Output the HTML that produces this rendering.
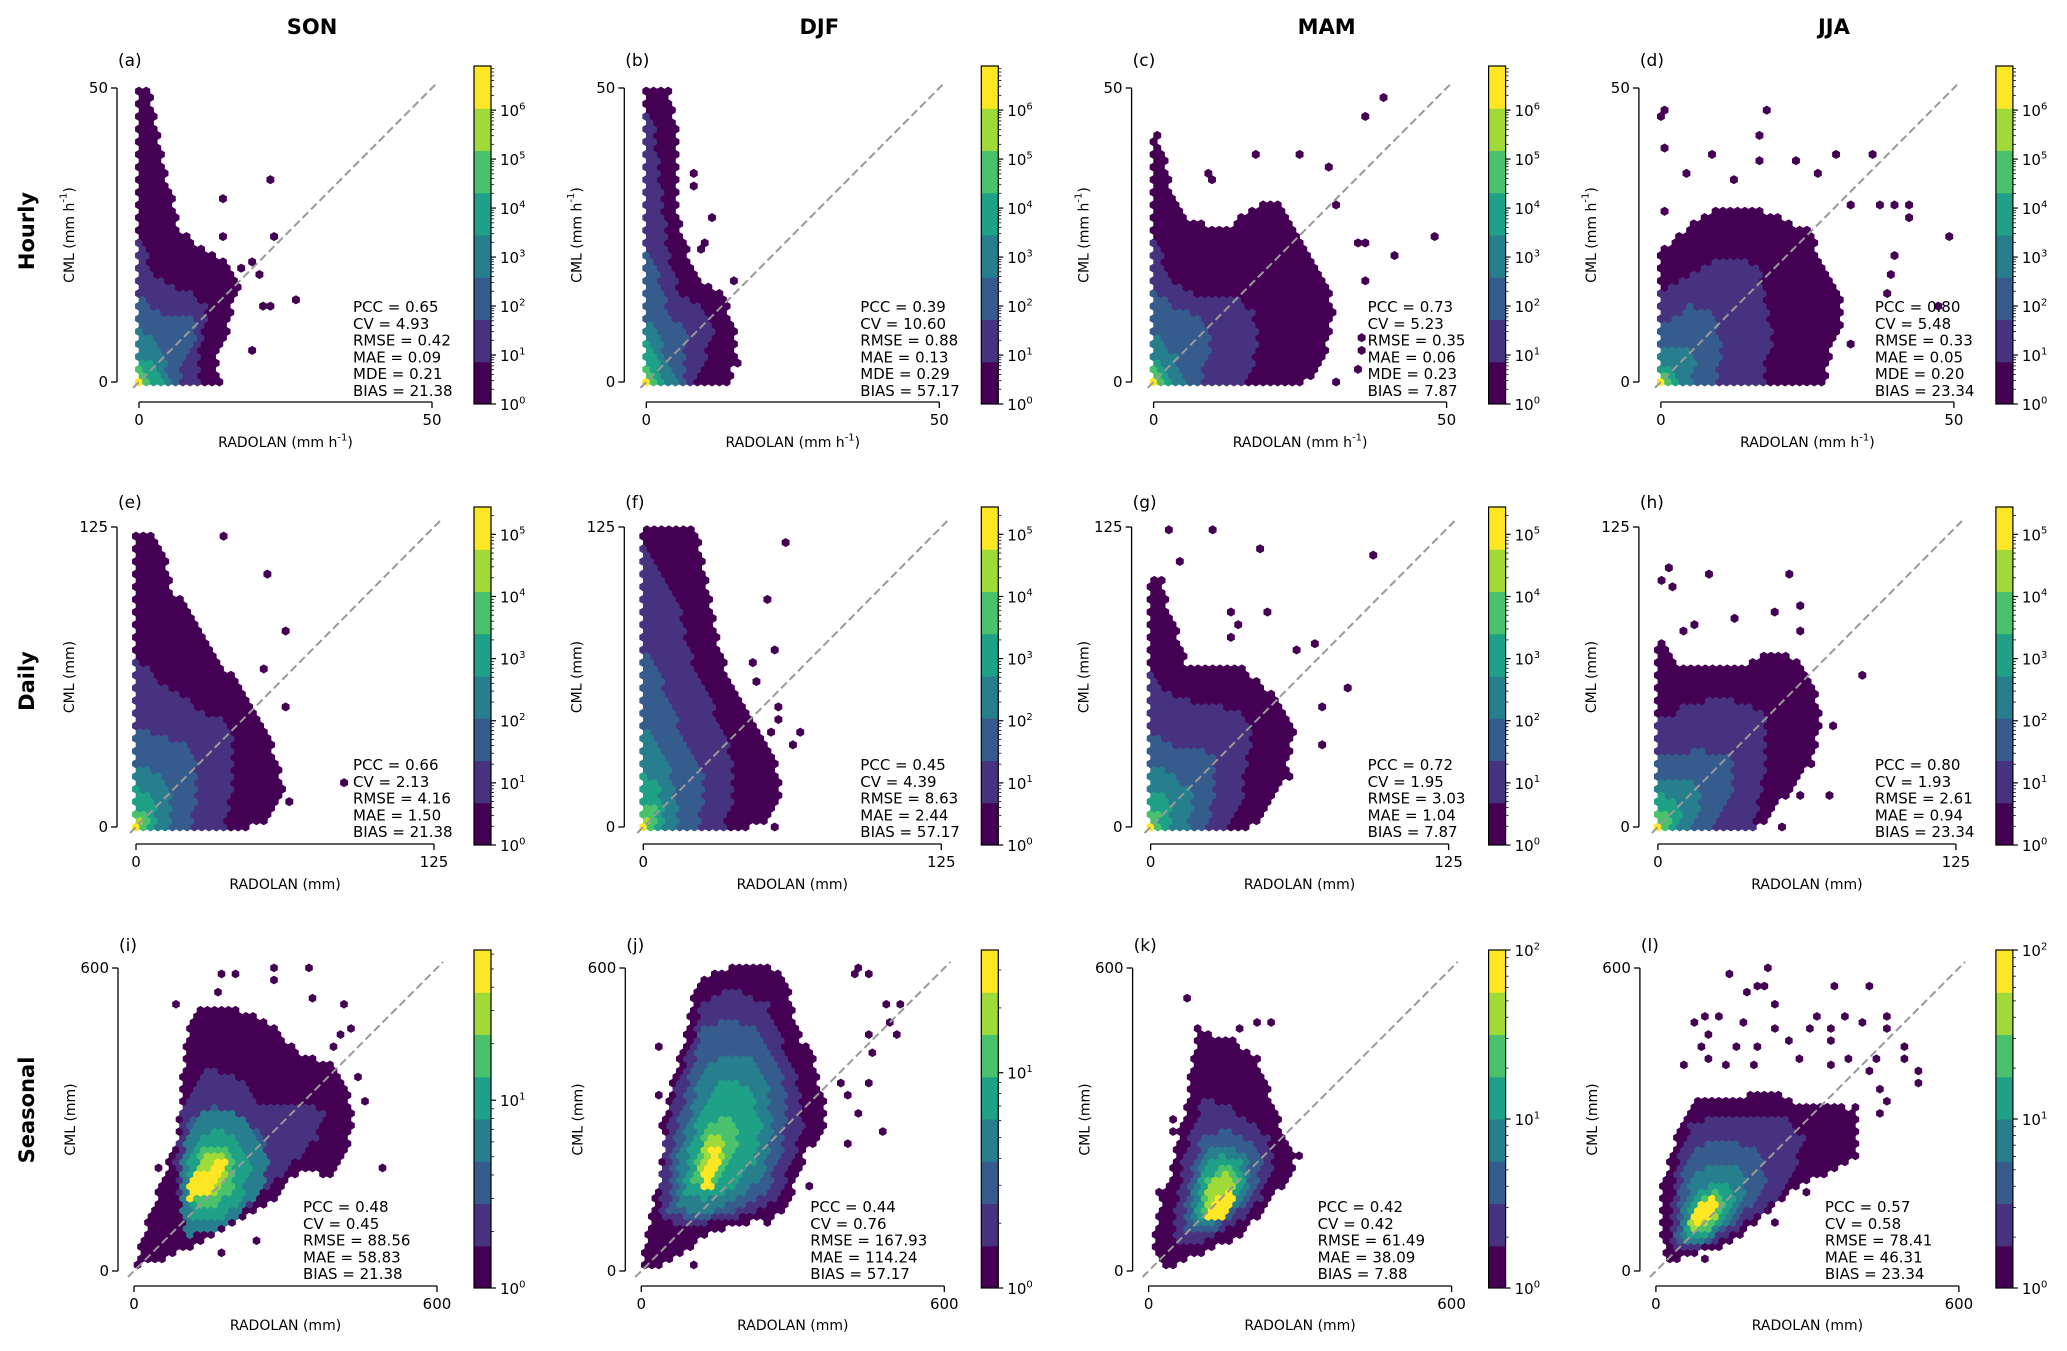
<!DOCTYPE html>
<html><head><meta charset="utf-8"><style>
html,body{margin:0;padding:0;background:#fff;}
svg{display:block;font-family:"DejaVu Sans","Liberation Sans",sans-serif;}
</style></head><body>
<svg id="fig" width="2067" height="1351" viewBox="0 0 2067 1351" xmlns="http://www.w3.org/2000/svg"></svg>
<script>
const seasons = ["SON","DJF","MAM","JJA"];
const rowNames = ["Hourly","Daily","Seasonal"];
const axisMax = [50,125,600];
const letters = ["(a)","(b)","(c)","(d)","(e)","(f)","(g)","(h)","(i)","(j)","(k)","(l)"];
const yLabels = ["CML (mm h","CML (mm)","CML (mm)"];
const xLabels = ["RADOLAN (mm h","RADOLAN (mm)","RADOLAN (mm)"];
const statNames1 = ["PCC","CV","RMSE","MAE","MDE","BIAS"];
const statNames2 = ["PCC","CV","RMSE","MAE","BIAS"];
const statVals = [
 ["0.65","4.93","0.42","0.09","0.21","21.38"],["0.39","10.60","0.88","0.13","0.29","57.17"],
 ["0.73","5.23","0.35","0.06","0.23","7.87"],["0.80","5.48","0.33","0.05","0.20","23.34"],
 ["0.66","2.13","4.16","1.50","21.38"],["0.45","4.39","8.63","2.44","57.17"],
 ["0.72","1.95","3.03","1.04","7.87"],["0.80","1.93","2.61","0.94","23.34"],
 ["0.48","0.45","88.56","58.83","21.38"],["0.44","0.76","167.93","114.24","57.17"],
 ["0.42","0.42","61.49","38.09","7.88"],["0.57","0.58","78.41","46.31","23.34"]];
const cbLogMax = [6.9,6.9,6.9,6.9,5.44,5.44,5.44,5.44,1.8,1.57,2.0,2.0];
const levelColors = ["#440154","#46327e","#365c8d","#277f8e","#1fa187","#4ac16d","#a0da39","#fde725"];

const shapeA=[[-2,-2,-2,50,2,50,3,44,4,38,6,30,7,26,10,23,14,21,17,17,16,12,15,8,13,4,14,0,14,-2],[-2,-2,-2,25,1,24,2,19,5,17,9,15,12,13,11,8,10,4,10,0,10,-2],[-2,-2,-2,16,1,14,3,12,9,11,10,8,8,5,7,2,7,0,7,-2],[-2,-2,-2,10,3,7,4,4,5,2,6,0,6,-2],[-2,-2,-2,5,3,3,4,0,4,-2],[-2,-2,-2,2.5,1.5,2,2,0,2,-2],[-2,-2,-2,1,1,0.5,1,-2],[-1,-1,-1,0.4,0.4,0.4,0.4,-1]];
const outA=[22.4,34.8,14.3,31.5,14.3,25,23,25,26.8,14.2,21,13.3,22,13.3,19.3,5.4,19.3,20.7,18,19,20,18.8];
const shapeB=[[-2,-2,-2,50,4,50,5,45,5,30,7,22,10,17,13,15,15,10,15,3,14,0,14,-2],[-2,-2,-2,46,1,46,2,38,3,30,4,20,6,15,9,13,12,9,10,4,8,0,8,-2],[-2,-2,-2,23,1,22,2,18,4,12,7,8,6,3,7,0,7,-2],[-2,-2,-2,13,2,8,4,3,5,0,5,-2],[-2,-2,-2,8,1,6,2,3,3,0,3,-2],[-2,-2,-2,3,1.5,2,2,0,2,-2],[-2,-2,-2,1.2,1,0.5,1,-2],[-1,-1,-1,0.4,0.4,0.4,0.4,-1]];
const outB=[8,36,8,33,11,28,10,24,9,23,15,17,15.5,9,15,3.5];
const shapeC=[[-2,-2,-2,42,1,42,2,37,3,33,5,28,8,27,12,26,17,30,22,31,24,26,26,22,29,17,31,13,30,7,28,2,26,0,26,-2],[-2,-2,-2,25,1,24,2,18,7,15,14,15,17,12,18,8,17,3,16,0,16,-2],[-2,-2,-2,17,1,15,3,13,8,11,10,8,9,4,8,0,8,-2],[-2,-2,-2,9,2,7,4,4,5,0,5,-2],[-2,-2,-2,5,2,3,3,0,3,-2],[-2,-2,-2,3,1.5,2,2,0,2,-2],[-2,-2,-2,1.2,1,0.5,1,-2],[-1,-1,-1,0.4,0.4,0.4,0.4,-1]];
const outC=[39.3,48,36,44.8,17.4,38.2,24.9,38.2,30.3,37,9.8,36,9.8,34,31,29.6,34.3,23.9,36.5,23.9,41.6,21.8,48.4,25,35.6,17.2,31.5,0,35,7.5,35,5.5,35,2.3];
const shapeD=[[-2,-2,-2,22,2,24,5,27,8,29,12,30,16,30,20,28,25,26,27,22,31,15,31,10,29,5,28,0,28,-2],[-2,-2,-2,15,3,17,6,19,10,21,14,21,17,19,18,14,19,8,18,3,18,0,18,-2],[-2,-2,-2,9,2,11,5,13,9,12,10,8,10,3,9,0,9,-2],[-2,-2,-2,5,2,6,5,6,6,3,5,0,5,-2],[-2,-2,-2,3,2,2,3,0,3,-2],[-2,-2,-2,1.5,1.5,1,1.5,-2],[-1,-1,-1,0.6,0.6,0.6,0.6,-1],[-1,-1,-1,0.3,0.3,0.3,0.3,-1]];
const outD=[0.85,46.7,0.5,45.5,17.9,46.6,17,42.3,0.7,40.2,8.8,39,17,37.9,23.3,37.9,30,39,36.4,39,4.5,35.9,12.8,34.7,27,35.9,0.85,29.4,32.7,30.3,37.5,30.3,40,30.3,42.6,30.3,42.6,28.3,49.4,24.9,40,21.7,39.4,18.3,39,15.4,47.7,13,32.4,6.6,29,4.3,29,8.6];
const shapeE=[[-5,-5,-5,123,6,123,12,115,15,100,25,85,32,72,42,62,50,50,56,38,60,25,62,12,55,3,48,0,48,-5],[-5,-5,-5,72,4,68,8,60,18,56,25,50,35,45,40,40,40,15,38,3,38,0,38,-5],[-5,-5,-5,42,4,40,10,38,20,35,25,28,25,15,24,5,22,0,22,-5],[-5,-5,-5,26,5,25,12,20,15,14,15,5,14,0,14,-5],[-5,-5,-5,17,4,15,8,12,8,5,8,0,8,-5],[-5,-5,-5,9,4,7,5,3,5,0,5,-5],[-5,-5,-5,4,2,3,3,0,3,-5],[-3,-3,-3,1,1,1,1,-3]];
const outE=[36,122,54.9,106,63,81,53,65,62,49,65.8,11,86,19];
const shapeF=[[-5,-5,-5,126,22,126,26,105,29,90,33,72,37,58,45,45,52,35,57,22,58,12,52,3,45,0,45,-5],[-5,-5,-5,118,3,116,8,105,14,95,18,80,22,65,27,55,33,42,38,28,38,12,35,3,35,0,35,-5],[-5,-5,-5,75,4,70,8,60,12,50,16,40,22,30,25,20,25,8,23,0,23,-5],[-5,-5,-5,42,4,40,8,32,12,22,14,12,14,0,14,-5],[-5,-5,-5,25,5,20,8,12,8,5,8,0,8,-5],[-5,-5,-5,11,5,8,6,3,6,0,6,-5],[-5,-5,-5,4,2,3,3,0,3,-5],[-3,-3,-3,1,1,1,1,-3]];
const outF=[59,119.5,51,95,56,73,45,68,46.7,59.7,55.6,49,57.8,46,55,40.8,64.8,40.8,61.7,35.5,55.6,0.3,45,3];
const shapeG=[[-5,-5,-5,105,5,105,8,90,12,78,15,68,25,66,40,66,45,60,52,55,58,48,60,40,58,30,56,20,50,10,45,3,42,0,42,-5],[-5,-5,-5,66,3,62,8,55,18,52,30,50,40,47,42,38,40,25,38,10,33,0,33,-5],[-5,-5,-5,40,4,38,10,34,20,33,27,30,27,20,26,8,24,0,24,-5],[-5,-5,-5,25,5,24,12,20,17,15,17,5,16,0,16,-5],[-5,-5,-5,16,4,14,8,10,9,4,8,0,8,-5],[-5,-5,-5,8,3,6,4,2,4,0,4,-5],[-5,-5,-5,3,2,2,2,0,2,-5],[-3,-3,-3,1,1,1,1,-3]];
const outG=[7,123,24.8,123,45,116,94,113,13.7,111,32.5,89.8,48,90,35.7,84,33,79,68.7,76,61,73,82.6,57,71.6,49,70.6,35,59,21.6];
const shapeH=[[-5,-5,-5,78,3,78,6,70,12,66,25,66,35,66,45,72,55,72,62,65,66,55,68,45,65,30,58,18,50,8,45,2,40,0,40,-5],[-5,-5,-5,48,5,46,10,50,20,53,30,53,40,50,45,46,46,35,45,25,42,10,40,0,40,-5],[-5,-5,-5,32,5,30,15,32,25,31,32,28,32,15,27,5,22,0,22,-5],[-5,-5,-5,22,4,20,12,20,18,15,18,5,15,0,15,-5],[-5,-5,-5,14,4,13,9,10,10,5,8,0,8,-5],[-5,-5,-5,8,3,7,5,3,4,0,4,-5],[-5,-5,-5,4,2,2,2,0,2,-5],[-3,-3,-3,1,1,1,1,-3]];
const outH=[3.4,109,4.8,100.6,0,104,20,106,55,106,48.7,90,60,93,61,82,31.6,87,15.4,84,11,82,86.5,62.7,75,43,65.5,27,58.8,13,71,13.4,50.6,0.3];
const shapeI=[[6,10,45,18,131,57,197,94,263,127,303,173,330,205,395,186,421,226,434,305,421,371,395,411,340,424,296,463,263,496,197,523,131,523,105,477,98,397,84,265,52,173,26,94,6,28],[90,140,150,110,230,130,300,200,360,260,380,320,330,330,250,330,200,390,140,400,100,330,80,220],[100,130,150,120,210,150,240,200,260,260,220,300,160,330,110,300,95,220],[105,70,160,80,210,110,250,160,270,220,240,280,190,320,140,320,105,280,95,200,95,120],[115,100,170,100,210,140,235,200,215,250,175,280,130,270,110,220,105,160],[120,130,160,130,195,160,200,210,180,250,140,250,118,200],[125,150,160,150,185,180,185,220,160,240,135,225,120,190],[108,140,140,150,170,180,190,215,175,225,150,205,120,190,106,165]];
const outI=[170,589,202,589,283,602,345,600,283,575,165,549,90,523,353,536,421,523,428,482,390,444,405,470,442,379,464,339,496,209,45,209,30,79,61,24,172,39,246,65,255,132,6,14];
const shapeJ=[[0,0,51,14,137,77,211,94,269,107,297,147,316,199,329,239,355,265,368,312,355,364,342,424,316,457,303,510,289,563,262,602,170,602,118,576,99,530,90,471,71,411,51,345,45,279,38,180,18,114,5,48],[40,100,100,90,200,110,270,140,300,220,320,280,310,380,280,450,250,530,180,560,120,530,100,440,70,380,50,280,40,180],[55,120,110,100,190,120,250,160,280,240,290,330,270,420,230,480,170,500,120,480,100,400,80,320,60,230],[70,130,120,110,190,140,240,190,260,270,250,360,220,420,160,430,120,400,100,320,75,230],[85,150,130,140,190,170,225,220,240,290,220,350,190,380,150,370,120,320,95,240],[100,170,140,170,175,210,195,260,185,300,160,310,130,280,108,220],[115,180,140,185,160,220,165,260,150,280,130,260,115,220],[122,160,138,165,150,200,158,240,150,258,138,240,125,200]];
const outJ=[420,589,434,602,457,589,480,523,510,523,497,496,510,470,451,470,454,431,391,368,451,368,411,351,427,315,473,275,411,249,30,444,38,351,45,288,98,15,338,170,249,94];
const shapeK=[[27,0,78,22,135,48,181,68,226,121,272,174,294,226,272,266,249,319,238,358,215,424,169,457,101,477,84,418,78,332,56,266,44,187,22,134,10,55],[50,60,110,60,170,90,220,140,250,200,240,260,200,300,150,330,110,340,90,290,70,220,55,140],[70,75,120,75,170,110,210,160,225,210,200,260,150,280,110,270,90,220,75,150],[85,90,130,90,170,125,200,175,200,220,170,250,130,250,105,215,88,160],[95,100,135,100,170,140,190,185,180,220,145,230,115,210,100,170],[105,110,140,115,165,145,178,180,165,205,135,205,112,175],[110,120,140,125,160,150,170,175,155,195,130,190,112,160],[115,95,140,100,160,125,172,150,165,160,140,150,118,130]];
const outK=[82,536,237,497,209,497,186,484,98,484,118,470,141,457,50,302,50,276,27,160,30,108,294,223];
const shapeL=[[20,20,97,40,153,55,244,134,290,174,358,200,398,226,403,306,369,332,278,332,233,358,165,345,74,339,51,292,28,226,11,160,11,75],[30,40,80,40,140,70,200,110,260,160,280,220,300,260,260,300,200,310,120,310,70,290,45,230,35,140],[40,50,90,50,150,90,200,140,220,190,200,240,150,260,100,260,60,220,45,140],[50,60,95,60,150,100,180,150,180,190,150,215,100,215,70,180,55,120],[58,70,100,70,140,105,160,145,150,175,115,180,85,160,65,120],[62,75,100,80,130,110,140,140,125,160,95,150,70,120],[65,80,95,85,120,110,125,135,110,145,90,130,70,110],[70,90,95,95,115,115,125,140,110,150,90,135,72,110]];
const outL=[142,588,224,601,199,563,210,563,178,550,349,563,426,563,239,523,74,497,97,510,125,510,176,497,233,484,318,510,381,510,455,510,307,484,341,484,415,497,261,457,352,457,455,484,108,470,91,444,165,444,197,444,494,444,494,418,523,391,523,368,57,405,108,418,142,405,188,405,288,418,341,405,375,418,438,418,426,391,449,365,460,342,398,319,438,312,366,223,398,223,299,160,250,147,233,94,102,28,40,25];

const shapes=[shapeA,shapeB,shapeC,shapeD,shapeE,shapeF,shapeG,shapeH,shapeI,shapeJ,shapeK,shapeL];
const outliers=[outA,outB,outC,outD,outE,outF,outG,outH,outI,outJ,outK,outL];

const colDX=507.3;
const rowGeom=[
 {spX:117,yTop:88,yBot:382,spY:402,x0:139,x1:432,cbTop:66,cbBot:404,lblY:66,statY:312,statDX:214,xlabY:447,hex:7.3},
 {spX:117,yTop:527,yBot:827,spY:844,x0:136,x1:434,cbTop:507,cbBot:845,lblY:508,statY:770,statDX:217,xlabY:889,hex:7.3},
 {spX:118,yTop:968,yBot:1271,spY:1286,x0:134,x1:437,cbTop:950,cbBot:1288,lblY:951,statY:1212,statDX:169,xlabY:1330,hex:7.0}];
const NS='http://www.w3.org/2000/svg';
const svg=document.getElementById('fig');
function mk(tag,attrs,parent){const e=document.createElementNS(NS,tag);for(const k in attrs)e.setAttribute(k,attrs[k]);(parent||svg).appendChild(e);return e;}
function inPoly(x,y,p){let c=false;const n=p.length/2;for(let i=0,j=n-1;i<n;j=i++){const xi=p[2*i],yi=p[2*i+1],xj=p[2*j],yj=p[2*j+1];if(((yi>y)!==(yj>y))&&(x<(xj-xi)*(y-yi)/(yj-yi)+xi))c=!c;}return c;}
function supText(parent,x,y,base,exp,size,anchor){
  const t=mk('text',{x:x,y:y,'font-size':size,'text-anchor':anchor||'start',fill:'#000'},parent);
  t.appendChild(document.createTextNode(base));
  const s=mk('tspan',{'font-size':Math.round(size*0.68),dy:-size*0.45},t);s.textContent=exp;
  if(exp!==''){const s2=mk('tspan',{'font-size':size,dy:size*0.45},t);s2.textContent=')';}
  return t;
}

seasons.forEach((s,c)=>{
  const t=mk('text',{x:312+c*colDX,y:34,'font-size':21,'font-weight':'bold','text-anchor':'middle'});
  
  
  t.textContent=s;
});
const rowCY=[231,681,1110];
rowNames.forEach((s,r)=>{
  const t=mk('text',{x:0,y:0,'font-size':21,'font-weight':'bold','text-anchor':'middle','dominant-baseline':'central',transform:'translate(27,'+rowCY[r]+') rotate(-90)'});
  
  
  t.textContent=s;
});

for(let p=0;p<12;p++){
  const r=Math.floor(p/4),c=p%4,g=rowGeom[r],mx=axisMax[r],off=c*colDX;
  const sx=v=>g.x0+off+v/mx*(g.x1-g.x0);
  const sy=v=>g.yBot-v/mx*(g.yBot-g.yTop);
  const ix=px=>(px-g.x0-off)/(g.x1-g.x0)*mx;
  const iy=py=>(g.yBot-py)/(g.yBot-g.yTop)*mx;
  const grp=mk('g',{});
  
  
  const w=g.hex,h=w*Math.sqrt(3)/2,rad=w/Math.sqrt(3)+0.35;
  const levels={};
  const nj=Math.ceil((g.yBot-g.yTop)*1.06/h),ni=Math.ceil((g.x1-g.x0)*1.06/w);
  const shp=shapes[p];
  const minIdx=r<2?0:-1;
  for(let j=minIdx;j<=nj;j++){for(let i=minIdx;i<=ni;i++){
    const cx=sx(0)+i*w+((j%2+2)%2?w/2:0),cy=sy(0)-j*h;
    const dx=ix(cx),dy=iy(cy);let lv=0;
    for(let L=0;L<shp.length;L++){if(inPoly(dx,dy,shp[L]))lv=L+1;}
    if(lv>0)levels[i+','+j]=lv;
  }}
  const ol=outliers[p];
  for(let k=0;k<ol.length;k+=2){
    const px=sx(ol[k]),py=sy(ol[k+1]);
    const j=Math.round((sy(0)-py)/h);const o=((j%2+2)%2)?w/2:0;
    const i=Math.round((px-sx(0)-o)/w);const key=i+','+j;
    if(!levels[key])levels[key]=1;
  }
  const hg=mk('g',{},grp);
  
  
  for(const key in levels){
    const [i,j]=key.split(',').map(Number);
    const cx=sx(0)+i*w+((j%2+2)%2?w/2:0),cy=sy(0)-j*h;
    let d='';for(let a=0;a<6;a++){const ang=Math.PI/180*(90+60*a);d+=(a?'L':'M')+(cx+rad*Math.cos(ang)).toFixed(2)+','+(cy+rad*Math.sin(ang)).toFixed(2);}
    const hx=mk('path',{d:d+'Z',fill:levelColors[levels[key]-1]},hg);
    
    
  }
  const ln=mk('line',{x1:sx(-0.02*mx),y1:sy(-0.02*mx),x2:sx(1.02*mx),y2:sy(1.02*mx),stroke:'#999','stroke-width':2,'stroke-dasharray':'8,4'},grp);
  
  
  const ys=mk('line',{x1:g.spX+off,y1:g.yTop,x2:g.spX+off,y2:g.yBot,stroke:'#000','stroke-width':1.3},grp);
  
  
  const xs=mk('line',{x1:g.x0+off,y1:g.spY,x2:g.x1+off,y2:g.spY,stroke:'#000','stroke-width':1.3},grp);
  
  
  [0,mx].forEach(v=>{
    const t1=mk('line',{x1:g.spX+off-6,y1:sy(v),x2:g.spX+off,y2:sy(v),stroke:'#000','stroke-width':1.3},grp);
    
    
    const l1=mk('text',{x:g.spX+off-9,y:sy(v)+5,'font-size':15,'text-anchor':'end'},grp);
    
    
    l1.textContent=String(v);
    const t2=mk('line',{x1:sx(v),y1:g.spY,x2:sx(v),y2:g.spY+6,stroke:'#000','stroke-width':1.3},grp);
    
    
    const l2=mk('text',{x:sx(v),y:g.spY+23,'font-size':15,'text-anchor':'middle'},grp);
    
    
    l2.textContent=String(v);
  });
  const pl=mk('text',{x:g.spX+off+1,y:g.lblY,'font-size':17},grp);
  
  
  pl.textContent=letters[p];
  const yl=supText(grp,0,0,yLabels[r],r===0?'-1':'',14,'middle');
  yl.setAttribute('transform','translate('+(g.spX+off-47)+','+((g.yTop+g.yBot)/2)+') rotate(-90)');
  yl.setAttribute('dominant-baseline','central');
  
  
  const xl=supText(grp,(g.x0+g.x1)/2+off,g.xlabY,xLabels[r],r===0?'-1':'',14,'middle');
  
  
  const names=r===0?statNames1:statNames2;
  const st=mk('text',{'font-size':15},grp);
  
  
  names.forEach((n,k)=>{const ts=mk('tspan',{x:g.x0+off+g.statDX,y:g.statY+k*16.8},st);ts.textContent=n+' = '+statVals[p][k];});
  const cbx=474+off,cbw=17,cbh=g.cbBot-g.cbTop,lm=cbLogMax[p];
  const cb=mk('g',{},grp);
  
  
  for(let b=0;b<8;b++){
    const rc=mk('rect',{x:cbx,y:g.cbBot-(b+1)*cbh/8,width:cbw,height:cbh/8+0.5,fill:levelColors[b]},cb);
    
    
  }
  mk('rect',{x:cbx,y:g.cbTop,width:cbw,height:cbh,fill:'none',stroke:'#000','stroke-width':1.2},cb);
  for(let e=0;e<=Math.floor(lm);e++){
    const yy=g.cbBot-e/lm*cbh;
    mk('line',{x1:cbx+cbw,y1:yy,x2:cbx+cbw+5,y2:yy,stroke:'#000','stroke-width':1.2},cb);
    const tl=supText(cb,cbx+cbw+9,yy+6,'10',String(e),15,'start');
    tl.lastChild.remove();
    
    
    for(let m=2;m<=9;m++){const lg=e+Math.log10(m);if(lg<lm){const ym=g.cbBot-lg/lm*cbh;mk('line',{x1:cbx+cbw,y1:ym,x2:cbx+cbw+3,y2:ym,stroke:'#000','stroke-width':0.8},cb);}}
  }
}
</script>
</body></html>
